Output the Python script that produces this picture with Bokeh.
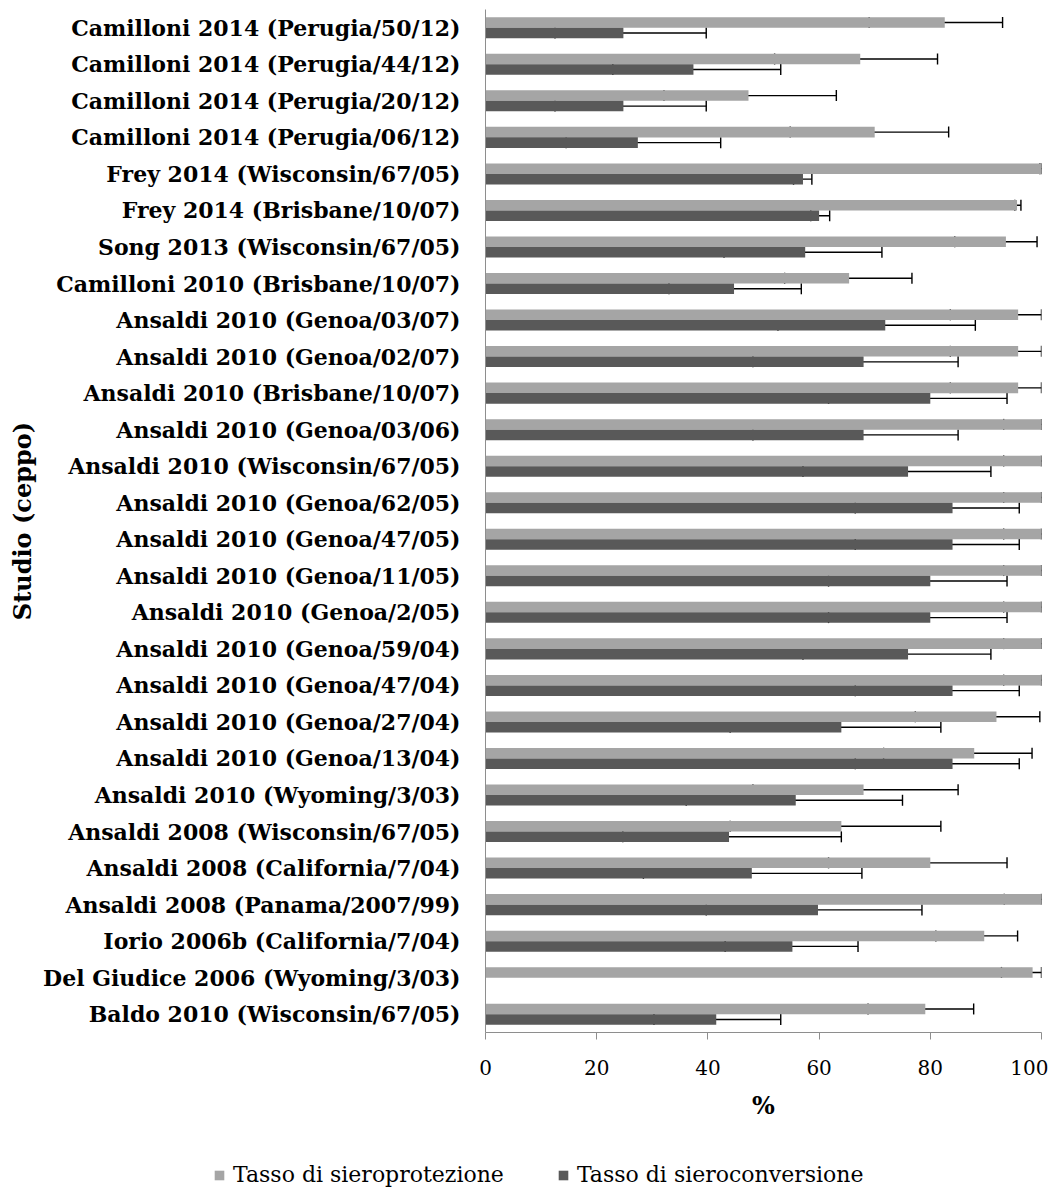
from bokeh.plotting import figure
from bokeh.models import (ColumnDataSource, FactorRange, Whisker, TeeHead, Legend,
                          LegendItem, FixedTicker, Range1d)
from bokeh.transform import dodge
from bokeh.embed import file_html
from bokeh.resources import INLINE

studies = [
    "Camilloni 2014 (Perugia/50/12)",
    "Camilloni 2014 (Perugia/44/12)",
    "Camilloni 2014 (Perugia/20/12)",
    "Camilloni 2014 (Perugia/06/12)",
    "Frey 2014 (Wisconsin/67/05)",
    "Frey 2014 (Brisbane/10/07)",
    "Song 2013 (Wisconsin/67/05)",
    "Camilloni 2010 (Brisbane/10/07)",
    "Ansaldi 2010 (Genoa/03/07)",
    "Ansaldi 2010 (Genoa/02/07)",
    "Ansaldi 2010 (Brisbane/10/07)",
    "Ansaldi 2010 (Genoa/03/06)",
    "Ansaldi 2010 (Wisconsin/67/05)",
    "Ansaldi 2010 (Genoa/62/05)",
    "Ansaldi 2010 (Genoa/47/05)",
    "Ansaldi 2010 (Genoa/11/05)",
    "Ansaldi 2010 (Genoa/2/05)",
    "Ansaldi 2010 (Genoa/59/04)",
    "Ansaldi 2010 (Genoa/47/04)",
    "Ansaldi 2010 (Genoa/27/04)",
    "Ansaldi 2010 (Genoa/13/04)",
    "Ansaldi 2010 (Wyoming/3/03)",
    "Ansaldi 2008 (Wisconsin/67/05)",
    "Ansaldi 2008 (California/7/04)",
    "Ansaldi 2008 (Panama/2007/99)",
    "Iorio 2006b (California/7/04)",
    "Del Giudice 2006 (Wyoming/3/03)",
    "Baldo 2010 (Wisconsin/67/05)",
]

# Tasso di sieroprotezione
protection = [82.6, 67.4, 47.3, 70.0, 100, 95.6, 93.6, 65.4, 95.8, 95.8, 95.8, 100, 100, 100,
              100, 100, 100, 100, 100, 91.9, 87.9, 68.0, 64.0, 80.0, 100, 89.7, 98.4, 79.1]
prot_lo = [69.0, 52.0, 32.1, 54.8, 99.7, 95.2, 84.4, 53.8, 83.6, 83.6, 83.6, 93.2, 93.2, 93.2,
           93.2, 93.2, 93.2, 93.2, 93.2, 77.3, 71.6, 48.1, 44.0, 61.7, 93.3, 81.0, 92.8, 68.8]
prot_hi = [93.0, 81.3, 63.1, 83.3, 100, 96.3, 99.2, 76.7, 100, 100, 100, 100, 100, 100,
           100, 100, 100, 100, 100, 99.7, 98.3, 85.0, 81.9, 93.8, 100, 95.7, 100, 87.8]

# Tasso di sieroconversione
conversion = [24.8, 37.4, 24.8, 27.4, 57.1, 60.0, 57.5, 44.7, 71.9, 68.0, 80.0, 68.0, 76.0, 84.0,
              84.0, 80.0, 80.0, 76.0, 84.0, 64.0, 84.0, 55.8, 43.8, 47.9, 59.8, 55.2, None, 41.5]
conv_lo = [12.5, 22.9, 12.5, 14.5, 55.4, 58.5, 42.9, 33.0, 52.6, 48.1, 61.7, 48.1, 57.1, 66.5,
           66.5, 61.7, 61.7, 57.1, 66.5, 44.0, 66.5, 36.1, 24.7, 28.4, 39.7, 43.1, None, 30.3]
conv_hi = [39.7, 53.1, 39.7, 42.3, 58.7, 61.9, 71.3, 56.8, 88.1, 85.0, 93.8, 85.0, 90.9, 96.0,
           96.0, 93.8, 93.8, 90.9, 96.0, 81.9, 96.0, 75.0, 64.0, 67.7, 78.5, 67.0, None, 53.1]

x_ticks = [0, 20, 40, 60, 80, 100]
series_names = ["Tasso di sieroprotezione", "Tasso di sieroconversione"]

LIGHT = "#a5a5a5"
DARK = "#595959"
AXIS = "#8e8e8e"
SERIF = "DejaVu Serif"

prot_src = ColumnDataSource(dict(study=studies, val=protection, lo=prot_lo, hi=prot_hi))
conv_idx = [i for i, v in enumerate(conversion) if v is not None]
conv_src = ColumnDataSource(dict(study=[studies[i] for i in conv_idx],
                                 val=[conversion[i] for i in conv_idx],
                                 lo=[conv_lo[i] for i in conv_idx],
                                 hi=[conv_hi[i] for i in conv_idx]))

W = 1048
H1 = 1130
p = figure(width=W, height=H1, y_range=FactorRange(factors=list(reversed(studies))),
           x_range=Range1d(0, 100), output_backend="svg", toolbar_location=None,
           min_border_left=485, min_border_right=7, min_border_top=9, min_border_bottom=98)

bh = 0.288
off = 0.144
r1 = p.hbar(y=dodge("study", off, range=p.y_range), right="val", left=0, height=bh,
            source=prot_src, fill_color=LIGHT, line_color=None)
r2 = p.hbar(y=dodge("study", -off, range=p.y_range), right="val", left=0, height=bh,
            source=conv_src, fill_color=DARK, line_color=None)

for src, o in ((prot_src, off), (conv_src, -off)):
    w = Whisker(source=src, base=dodge("study", o, range=p.y_range), lower="lo", upper="hi",
                dimension="width", line_color="black", line_width=1.4,
                lower_head=TeeHead(size=11, line_color="black", line_width=1.4),
                upper_head=TeeHead(size=11, line_color="black", line_width=1.4))
    p.add_layout(w)

p.xgrid.visible = False
p.ygrid.visible = False
p.outline_line_color = None

p.xaxis.ticker = FixedTicker(ticks=x_ticks)
p.xaxis.axis_line_color = AXIS
p.xaxis.major_tick_line_color = AXIS
p.xaxis.major_tick_out = 7
p.xaxis.major_tick_in = 0
p.xaxis.minor_tick_line_color = None
p.xaxis.major_label_text_font = SERIF
p.xaxis.major_label_text_font_size = "20px"
p.xaxis.major_label_text_color = "black"
p.xaxis.major_label_standoff = 20
p.xaxis.axis_label = "%"
p.xaxis.axis_label_text_font = SERIF
p.xaxis.axis_label_text_font_style = "bold"
p.xaxis.axis_label_text_font_size = "24px"
p.xaxis.axis_label_text_color = "black"
p.xaxis.axis_label_standoff = 13

p.yaxis.axis_line_color = AXIS
p.yaxis.major_tick_line_color = None
p.yaxis.major_tick_out = 0
p.yaxis.major_tick_in = 0
p.yaxis.minor_tick_line_color = None
p.yaxis.major_label_text_font = SERIF
p.yaxis.major_label_text_font_style = "bold"
p.yaxis.major_label_text_font_size = "22px"
p.yaxis.major_label_text_color = "black"
p.yaxis.major_label_standoff = 25
p.yaxis.axis_label = "Studio (ceppo)"
p.yaxis.axis_label_text_font = SERIF
p.yaxis.axis_label_text_font_style = "bold"
p.yaxis.axis_label_text_font_size = "24px"
p.yaxis.axis_label_text_color = "black"
p.yaxis.axis_label_standoff = 3

# legend strip below the chart (separate root so its frame spans the full width)
H2 = 57
p2 = figure(width=W, height=H2, x_range=Range1d(0, 1), y_range=Range1d(0, 1),
            output_backend="svg", toolbar_location=None, x_axis_type=None, y_axis_type=None,
            min_border_left=0, min_border_right=0, min_border_top=0, min_border_bottom=0)
p2.xgrid.visible = False
p2.ygrid.visible = False
p2.outline_line_color = None
# legend swatches: renderers kept outside the visible range
l1 = p2.hbar(y=[-5], right=[-5], left=-6, height=0.5, fill_color=LIGHT, line_color=None)
l2 = p2.hbar(y=[-5], right=[-5], left=-6, height=0.5, fill_color=DARK, line_color=None)
legend = Legend(items=[LegendItem(label=series_names[0], renderers=[l1]),
                       LegendItem(label=series_names[1], renderers=[l2])],
                orientation="horizontal", location=(213, 0),
                glyph_width=12, glyph_height=12, label_standoff=8, spacing=53,
                padding=0, margin=0, border_line_color=None, background_fill_alpha=0,
                label_text_font=SERIF, label_text_font_size="22px", label_text_color="black")
p2.add_layout(legend, "center")

open("out.html", "w").write(file_html([p, p2], INLINE))
